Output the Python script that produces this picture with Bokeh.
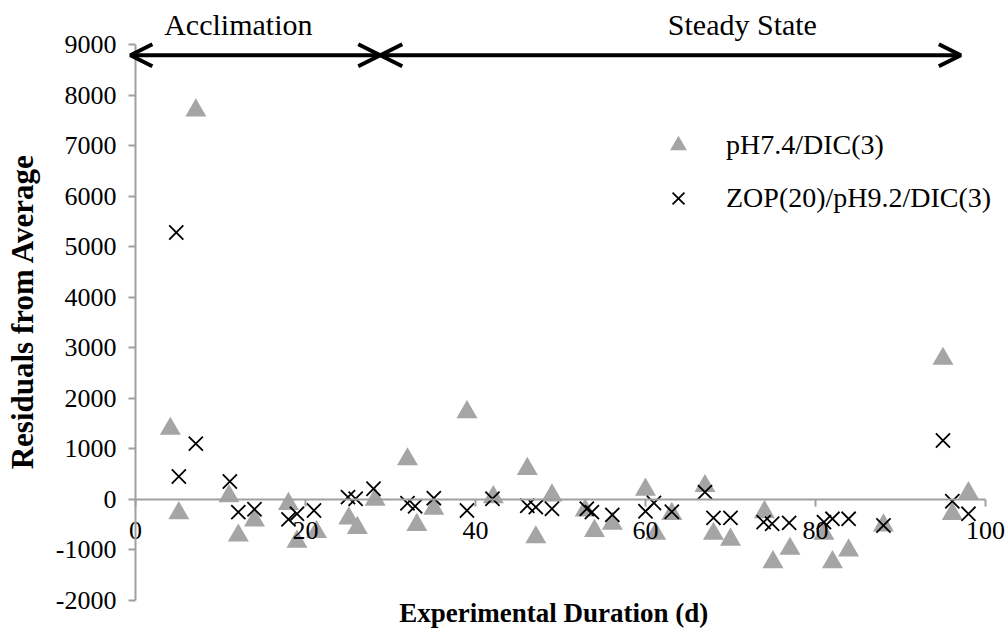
import math

from bokeh.plotting import figure
from bokeh.models import (FixedTicker, LinearAxis, Legend, LegendItem, Arrow,
                          OpenHead, Label, Range1d)
from bokeh.embed import file_html
from bokeh.resources import INLINE

# Residuals from the reactor average, by experimental day
ph74_day = [4.1, 5.1, 7.1, 11.0, 12.1, 14.0, 18.0, 19.0, 21.3, 25.1, 26.1, 28.2,
            32.0, 33.1, 35.1, 39.0, 42.1, 46.1, 47.1, 49.0, 52.9, 54.0, 56.1,
            60.0, 61.2, 63.1, 67.0, 68.0, 70.0, 74.0, 75.0, 77.0, 81.0, 82.0,
            83.9, 88.0, 95.0, 96.1, 98.0]
ph74_resid = [1394, -277, 7700, 60, -720, -420, -95, -840, -650, -380, -570, -10,
              790, -510, -190, 1723, 40, 601, -755, 73, -224, -630, -487,
              190, -685, -290, 260, -685, -800, -257, -1248, -982, -685, -1248,
              -1016, -521, 2780, -290, 120]

zop_day = [4.8, 5.1, 7.1, 11.1, 12.1, 14.0, 18.0, 19.0, 21.0, 25.0, 25.9, 28.0,
           32.0, 32.9, 35.1, 39.0, 42.0, 46.1, 47.1, 49.0, 53.1, 53.7, 56.1,
           60.0, 61.0, 63.1, 67.0, 68.0, 70.0, 73.9, 74.9, 76.9, 81.0, 82.0,
           83.9, 88.0, 95.0, 96.1, 98.0]
zop_resid = [5280, 450, 1100, 350, -257, -200, -400, -290, -224, 40, 8, 206,
             -80, -140, 20, -224, 8, -130, -158, -190, -190, -257, -310,
             -240, -75, -250, 139, -370, -370, -455, -487, -470, -455, -389,
             -389, -521, 1162, -40, -290]

series_labels = ["pH7.4/DIC(3)", "ZOP(20)/pH9.2/DIC(3)"]
x_ticks = [0, 20, 40, 60, 80, 100]
y_ticks = list(range(-2000, 9001, 1000))
x_bounds = (0, 100)
y_bounds = (-2000, 9000)

# Phase markers drawn above the data
phase_names = ["Acclimation", "Steady State"]
phase_bounds = [-0.6, 28.8, 97.1]
phase_arrow_y = 8790
phase_text_x = [12.1, 71.4]
phase_text_y = 9400

SERIF = "Liberation Serif"
AXIS_GRAY = "#A0A0A0"

# the frame fills the whole canvas; both axes sit at fixed data locations
p = figure(width=1008, height=637, x_range=Range1d(-15.88, 102.71),
           y_range=Range1d(-2739, 9875), x_axis_type=None, y_axis_type=None,
           output_backend="svg", toolbar_location=None,
           min_border_left=0, min_border_right=0,
           min_border_top=0, min_border_bottom=0)
p.outline_line_color = None
p.background_fill_color = "white"


def style_axis(ax):
    ax.axis_line_color = AXIS_GRAY
    ax.axis_line_width = 2
    ax.major_tick_line_color = AXIS_GRAY
    ax.major_tick_line_width = 2
    ax.major_tick_out = 7
    ax.major_tick_in = 0
    ax.minor_tick_out = 0
    ax.minor_tick_in = 0
    ax.major_label_text_font = SERIF
    ax.major_label_text_font_size = "26px"
    ax.major_label_text_color = "black"


xaxis = LinearAxis(fixed_location=0, ticker=FixedTicker(ticks=x_ticks),
                   bounds=x_bounds)
style_axis(xaxis)
xaxis.major_label_standoff = 16
p.add_layout(xaxis, "below")

yaxis = LinearAxis(fixed_location=0, ticker=FixedTicker(ticks=y_ticks),
                   bounds=y_bounds)
style_axis(yaxis)
yaxis.major_label_standoff = 12
# plain hyphen for negative tick values
yaxis.major_label_overrides = {t: "-%d" % abs(t) for t in y_ticks if t < 0}
p.add_layout(yaxis, "left")

p.add_layout(Label(x=-13.3, y=3717, text="Residuals from Average",
                   angle=math.pi / 2, text_align="center",
                   text_baseline="middle", text_font=SERIF,
                   text_font_size="31px", text_font_style="bold",
                   text_color="black"))
p.add_layout(Label(x=49.2, y=-2263, text="Experimental Duration (d)",
                   text_align="center", text_baseline="middle",
                   text_font=SERIF, text_font_size="27px",
                   text_font_style="bold", text_color="black"))

r1 = p.scatter(ph74_day, ph74_resid, marker="triangle", size=21,
               fill_color="#A5A5A5", line_color=None)
r2 = p.scatter(zop_day, zop_resid, marker="x", size=20,
               line_color="black", line_width=1.8)

legend = Legend(items=[LegendItem(label=series_labels[0], renderers=[r1]),
                       LegendItem(label=series_labels[1], renderers=[r2])],
                location=(657, 418), glyph_width=42, glyph_height=42,
                label_standoff=27, spacing=11, padding=0, margin=0,
                label_text_font=SERIF, label_text_font_size="28px",
                label_text_color="black", border_line_color=None,
                background_fill_alpha=0)
p.add_layout(legend)

# double-headed phase arrows with their captions
for i in range(2):
    p.add_layout(Arrow(x_start=phase_bounds[i], y_start=phase_arrow_y,
                       x_end=phase_bounds[i + 1], y_end=phase_arrow_y,
                       start=OpenHead(size=22, line_width=4),
                       end=OpenHead(size=22, line_width=4),
                       line_width=4, line_color="black"))
    p.add_layout(Label(x=phase_text_x[i], y=phase_text_y, text=phase_names[i],
                       text_align="center", text_baseline="middle",
                       text_font=SERIF, text_font_size="30px",
                       text_color="black"))

open("out.html", "w").write(file_html(p, INLINE))
